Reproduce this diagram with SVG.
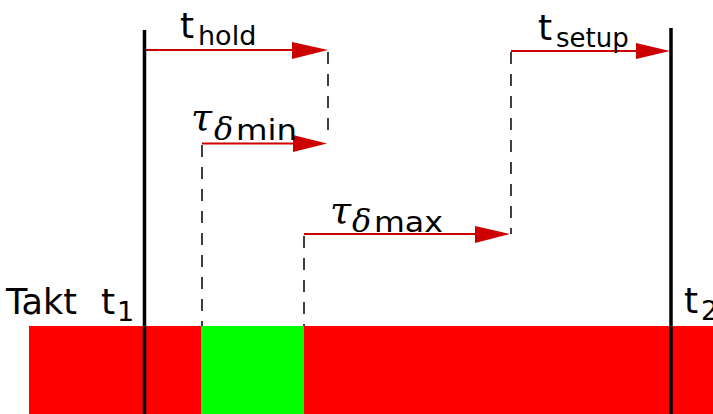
<svg xmlns="http://www.w3.org/2000/svg" width="713" height="414" viewBox="0 0 713 414">
<style>
.main{font-family:"DejaVu Sans","Liberation Sans",sans-serif;fill:#000;font-style:normal}
.greek{font-family:"DejaVu Serif","Liberation Serif",serif;font-style:italic;fill:#000}
.arr{stroke:#cc0000;stroke-width:2;fill:none}
.head{fill:#cc0000}
.dash{stroke:#000;stroke-width:1.5;stroke-dasharray:12 10;fill:none}
.clk{stroke:#000;stroke-width:3.5}
</style>
<rect width="713" height="414" fill="#fff"/>
<g id="bar">
<rect x="29" y="326" width="684" height="88" fill="#ff0000"/>
<rect x="201" y="326" width="103" height="88" fill="#00ff00"/>
</g>
<g id="connectors">
<line class="dash" x1="328" y1="52" x2="328" y2="130"/>
<line class="dash" x1="202" y1="145" x2="202" y2="326"/>
<line class="dash" x1="304" y1="236" x2="304" y2="326"/>
<line class="dash" x1="511" y1="52" x2="511" y2="234"/>
<line class="arr" x1="146" y1="50" x2="296" y2="50"/>
<polygon class="head" points="292,42 328,50 292,59"/>
<line class="arr" x1="202" y1="143.5" x2="296" y2="143.5"/>
<polygon class="head" points="293,135 327,143.5 293,152"/>
<line class="arr" x1="304" y1="234" x2="478" y2="234"/>
<polygon class="head" points="475,226 510,234 475,243"/>
<line class="arr" x1="511" y1="51" x2="640" y2="51"/>
<polygon class="head" points="636,43 670,51 636,59"/>
</g>
<g id="t1">
<line class="clk" x1="144.5" y1="30" x2="144.5" y2="414"/>
<text class="main" x="6" y="314" font-size="35">Takt</text>
<text class="main" x="101" y="314" font-size="36">t</text>
<text class="main" x="117" y="321" font-size="27">1</text>
</g>
<g id="t2">
<line class="clk" x1="671" y1="28" x2="671" y2="414"/>
<text class="main" x="684" y="313" font-size="36">t</text>
<text class="main" x="701" y="320" font-size="27">2</text>
</g>
<g id="thold">
<text class="main" x="180" y="38" font-size="36">t</text>
<text class="main" x="198" y="45" font-size="27">hold</text>
</g>
<g id="tsetup">
<text class="main" x="538" y="40" font-size="36">t</text>
<text class="main" x="556" y="47" font-size="26">setup</text>
</g>
<g id="taumin">
<text class="greek" x="191" y="130" font-size="38">τ</text>
<text class="greek" x="214" y="140" font-size="32">δ</text>
<text class="main" x="236" y="140" font-size="28" textLength="61" lengthAdjust="spacingAndGlyphs">min</text>
</g>
<g id="taumax">
<text class="greek" x="330" y="223" font-size="38">τ</text>
<text class="greek" x="352" y="232" font-size="32">δ</text>
<text class="main" x="374" y="232" font-size="28" textLength="69" lengthAdjust="spacingAndGlyphs">max</text>
</g>
</svg>
